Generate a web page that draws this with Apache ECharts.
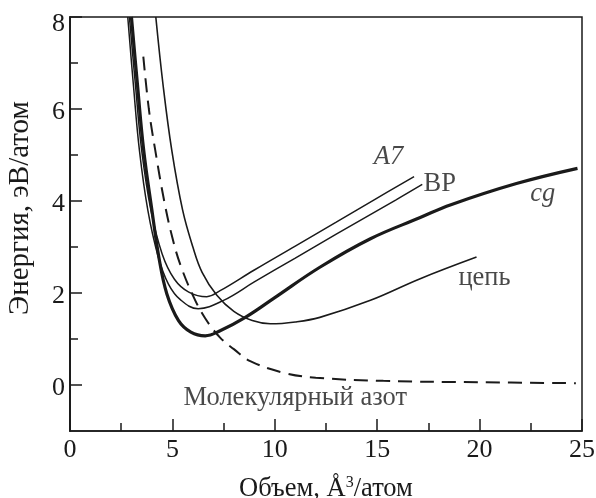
<!DOCTYPE html>
<html><head><meta charset="utf-8">
<script src="https://cdn.jsdelivr.net/npm/echarts@6/dist/echarts.min.js"></script>
<style>html,body{margin:0;padding:0;background:#fff}#c{width:596px;height:498px}</style>
</head><body><div id="c"></div>
<script>
// Data (volume Å^3/atom, energy eV/atom)
const a7X = [2.9, 3.2, 3.5, 3.95, 4.5, 5.1, 5.8, 6.68, 7.33, 9.0, 11.0, 13.0, 14.83, 16.8];
const a7Y = [8.0, 6.5, 5.1, 3.8, 2.85, 2.3, 2.02, 1.92, 2.05, 2.5, 3.02, 3.54, 4.02, 4.53];
const bpX = [2.82, 3.1, 3.39, 3.8, 4.3, 4.8, 5.4, 6.26, 7.5, 9.0, 11.0, 13.0, 15.9, 17.2];
const bpY = [8.0, 6.5, 5.1, 3.8, 2.8, 2.2, 1.85, 1.66, 1.84, 2.24, 2.76, 3.28, 4.02, 4.36];
const cgX = [3.0, 3.3, 3.6, 4.0, 4.35, 4.73, 5.3, 5.9, 6.6, 7.33, 8.56, 10.0, 12.2, 14.67, 17.1, 18.6, 21.8, 24.78];
const cgY = [8.0, 6.5, 5.1, 3.8, 2.75, 1.98, 1.4, 1.15, 1.07, 1.18, 1.47, 1.9, 2.56, 3.18, 3.64, 3.92, 4.38, 4.71];
const chainX = [4.19, 4.55, 4.97, 5.5, 6.0, 6.45, 7.17, 8.0, 8.9, 9.78, 11.0, 12.2, 14.67, 17.1, 19.85];
const chainY = [8.0, 6.5, 5.1, 3.8, 3.0, 2.45, 1.95, 1.6, 1.4, 1.33, 1.37, 1.47, 1.84, 2.31, 2.78];
const molX = [3.58, 3.85, 4.16, 4.6, 5.0, 5.4, 6.0, 6.6, 7.33, 8.0, 8.8, 10.4, 12.0, 15.3, 20.0, 24.7];
const molY = [7.14, 6.0, 5.11, 4.0, 3.2, 2.6, 1.95, 1.45, 1.03, 0.78, 0.52, 0.27, 0.16, 0.09, 0.06, 0.04];

const xMajorTicks = [0, 5, 10, 15, 20, 25];
const yMajorTicks = [0, 2, 4, 6, 8];
const yMinorTicks = [1, 3, 5, 7];

const labelText = ['A7', 'BP', 'cg', 'цепь', 'Молекулярный азот'];
const labelX = [15.55, 18.05, 23.08, 20.24, 11.0];
const labelY = [4.96, 4.37, 4.15, 2.32, -0.28];
const labelItalic = [true, false, true, false, false];

const zip = (xs, ys) => xs.map((x, i) => [x, ys[i]]);
const FONT = 'Liberation Serif';
const INK = '#1a1a1a';

const chart = echarts.init(document.getElementById('c'), null, {renderer: 'canvas'});
const lineSeries = (data, width, type) => ({
  type: 'line', data, smooth: 0.4, symbol: 'none', clip: true,
  lineStyle: {color: INK, width, type: type || 'solid'}, z: 3
});
chart.setOption({
  animation: false,
  backgroundColor: '#fff',
  grid: {left: 70, right: 14, top: 17, bottom: 67, containLabel: false, outerBoundsMode: 'none',
    show: true, borderColor: INK, borderWidth: 1.5, backgroundColor: 'transparent'},
  xAxis: {
    type: 'value', min: 0, max: 25, interval: 5,
    name: 'Объем, Å{sup|3}/атом', nameLocation: 'middle', nameGap: 44,
    nameTextStyle: {fontFamily: FONT, fontSize: 26.5, color: INK, rich: {sup: {fontFamily: FONT, fontSize: 16, color: INK, verticalAlign: 'top', padding: [0,0,12,0]}}},
    axisLine: {show: true, onZero: false, lineStyle: {color: INK, width: 1.5}},
    axisTick: {show: true, inside: true, length: 12, lineStyle: {color: INK, width: 1.5}, customValues: xMajorTicks},
    minorTick: {show: true, splitNumber: 2, length: 8, lineStyle: {color: INK, width: 1.5}},
    axisLabel: {fontFamily: FONT, fontSize: 26, color: INK, margin: 6, customValues: xMajorTicks},
    splitLine: {show: false}
  },
  yAxis: [{
    type: 'value', min: -1, max: 8,
    name: 'Энергия, эВ/атом', nameLocation: 'middle', nameGap: 35, nameRotate: 90,
    nameTextStyle: {fontFamily: FONT, fontSize: 29, color: INK, padding: [0, 0, 0, 32]},
    axisLine: {show: true, onZero: false, lineStyle: {color: INK, width: 1.5}},
    axisTick: {show: true, inside: true, length: 12, lineStyle: {color: INK, width: 1.5}, customValues: yMajorTicks},
    axisLabel: {fontFamily: FONT, fontSize: 26, color: INK, margin: 5, padding: [6, 0, 0, 0], customValues: yMajorTicks,
      formatter: v => v === 8 ? '{top|8}' : String(v),
      rich: {top: {fontFamily: FONT, fontSize: 26, color: INK, padding: [8, 0, 0, 0]}}},
    splitLine: {show: false}
  }, {
    type: 'value', min: -1, max: 8, position: 'left',
    axisLine: {show: true, onZero: false, lineStyle: {color: INK, width: 1.5}},
    axisTick: {show: true, inside: true, length: 8, lineStyle: {color: INK, width: 1.5}, customValues: yMinorTicks},
    axisLabel: {show: false},
    splitLine: {show: false}
  }],
  series: [
    lineSeries(zip(a7X, a7Y), 1.5),
    lineSeries(zip(bpX, bpY), 1.5),
    lineSeries(zip(chainX, chainY), 1.6),
    lineSeries(zip(cgX, cgY), 3.2),
    lineSeries(zip(molX, molY), 2, [14, 8]),
    {
      type: 'scatter', symbolSize: 0, z: 5, silent: true,
      data: labelText.map((t, i) => ({
        value: [labelX[i], labelY[i]],
        label: {show: true, position: 'inside', formatter: t, fontFamily: FONT, fontSize: 26.5,
          fontStyle: labelItalic[i] ? 'italic' : 'normal', color: INK}
      }))
    }
  ]
});
</script></body></html>
